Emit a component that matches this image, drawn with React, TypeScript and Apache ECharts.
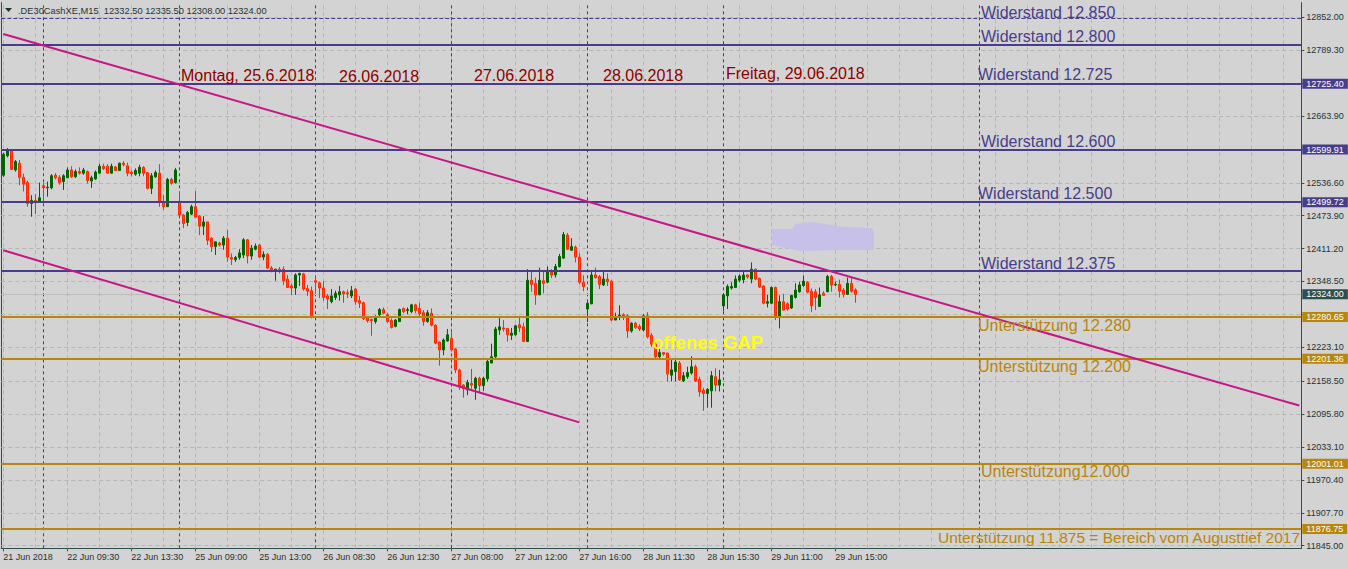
import React, { useEffect, useRef } from "react";
import * as echarts from "echarts";

const symbolName = ".DE30CashXE";
const timeframe = "M15";

// candles per trading day: [open, high, low, close]
const day21 = [
  [12551, 12594, 12548, 12591], [12588, 12603, 12585, 12600], [12599, 12601, 12561, 12562], [12561, 12580, 12558, 12577],
  [12574, 12580, 12532, 12547], [12547, 12554, 12520, 12534], [12537, 12541, 12491, 12497], [12497, 12513, 12472, 12503],
  [12503, 12515, 12477, 12500], [12501, 12537, 12500, 12508],
];
const day22 = [
  [12531, 12537, 12501, 12527], [12527, 12539, 12510, 12528], [12527, 12553, 12524, 12550], [12551, 12555, 12543, 12546],
  [12547, 12551, 12533, 12537], [12539, 12553, 12523, 12550], [12546, 12566, 12546, 12561], [12561, 12568, 12546, 12548],
  [12548, 12562, 12546, 12558], [12558, 12566, 12552, 12555], [12555, 12565, 12552, 12561], [12558, 12560, 12535, 12541],
  [12540, 12550, 12527, 12546], [12544, 12560, 12542, 12557], [12555, 12573, 12554, 12568], [12568, 12573, 12561, 12564],
  [12568, 12572, 12554, 12555], [12555, 12573, 12554, 12568], [12567, 12568, 12559, 12560], [12560, 12575, 12559, 12574],
  [12574, 12578, 12568, 12571], [12569, 12575, 12549, 12555], [12557, 12560, 12549, 12554], [12553, 12564, 12550, 12560],
  [12555, 12571, 12549, 12566], [12566, 12568, 12549, 12555], [12556, 12557, 12524, 12526], [12526, 12555, 12515, 12550],
  [12548, 12560, 12546, 12556], [12555, 12572, 12491, 12501], [12499, 12513, 12485, 12491], [12491, 12546, 12491, 12543],
  [12543, 12546, 12533, 12536], [12537, 12565, 12535, 12561],
];
const day25 = [
  [12499, 12520, 12475, 12475], [12475, 12477, 12450, 12459], [12461, 12483, 12454, 12480], [12477, 12495, 12475, 12491],
  [12491, 12521, 12471, 12471], [12473, 12475, 12437, 12454], [12454, 12473, 12437, 12462], [12462, 12462, 12418, 12427],
  [12431, 12433, 12405, 12415], [12415, 12424, 12399, 12424], [12422, 12424, 12415, 12418], [12418, 12435, 12409, 12431],
  [12431, 12447, 12386, 12395], [12394, 12402, 12380, 12391], [12390, 12397, 12386, 12394], [12394, 12410, 12390, 12403],
  [12399, 12431, 12393, 12428], [12428, 12429, 12383, 12397], [12397, 12418, 12390, 12412], [12410, 12421, 12408, 12416],
  [12418, 12420, 12394, 12395], [12395, 12406, 12389, 12400], [12400, 12403, 12372, 12374], [12374, 12378, 12366, 12369],
  [12369, 12372, 12350, 12372], [12372, 12376, 12364, 12368], [12372, 12377, 12342, 12350], [12353, 12361, 12336, 12337],
  [12340, 12345, 12323, 12336], [12336, 12364, 12323, 12361], [12361, 12365, 12340, 12364], [12363, 12365, 12331, 12334],
  [12335, 12342, 12321, 12330], [12331, 12339, 12278, 12281],
];
const day26 = [
  [12350, 12359, 12327, 12347], [12346, 12348, 12317, 12336], [12336, 12349, 12312, 12318], [12321, 12325, 12296, 12315],
  [12310, 12334, 12307, 12321], [12318, 12331, 12313, 12326], [12323, 12340, 12312, 12329], [12329, 12331, 12308, 12325],
  [12327, 12333, 12317, 12325], [12321, 12340, 12317, 12331], [12334, 12336, 12304, 12310], [12312, 12321, 12298, 12307],
  [12308, 12310, 12275, 12278], [12280, 12282, 12270, 12274], [12276, 12278, 12245, 12274], [12272, 12284, 12268, 12281],
  [12285, 12298, 12281, 12295], [12295, 12299, 12286, 12288], [12285, 12289, 12270, 12272], [12274, 12278, 12259, 12261],
  [12263, 12277, 12261, 12275], [12272, 12297, 12272, 12295], [12297, 12299, 12288, 12291], [12293, 12299, 12286, 12295],
  [12291, 12306, 12288, 12304], [12304, 12306, 12288, 12293], [12297, 12308, 12281, 12287], [12289, 12294, 12264, 12272],
  [12272, 12294, 12270, 12289], [12288, 12297, 12263, 12265], [12265, 12267, 12229, 12231], [12233, 12234, 12188, 12218],
  [12218, 12240, 12208, 12237], [12235, 12258, 12234, 12247],
];
const day27 = [
  [12240, 12254, 12215, 12218], [12220, 12222, 12174, 12180], [12180, 12182, 12142, 12148], [12151, 12153, 12127, 12144],
  [12142, 12161, 12132, 12156], [12154, 12182, 12144, 12151], [12145, 12167, 12123, 12164], [12164, 12167, 12138, 12150],
  [12150, 12167, 12140, 12164], [12163, 12199, 12158, 12196], [12193, 12230, 12193, 12205], [12205, 12262, 12203, 12258],
  [12256, 12279, 12247, 12262], [12260, 12275, 12253, 12258], [12259, 12260, 12234, 12247], [12246, 12260, 12237, 12250],
  [12247, 12266, 12245, 12264], [12266, 12283, 12252, 12260], [12262, 12270, 12234, 12234], [12234, 12372, 12234, 12351],
  [12351, 12370, 12329, 12343], [12345, 12356, 12304, 12323], [12323, 12375, 12323, 12351], [12350, 12368, 12326, 12345],
  [12347, 12377, 12345, 12370], [12368, 12372, 12355, 12361], [12361, 12382, 12356, 12377], [12377, 12401, 12375, 12396],
  [12393, 12443, 12392, 12438], [12437, 12441, 12409, 12410], [12408, 12431, 12407, 12415], [12414, 12417, 12385, 12395],
  [12395, 12402, 12343, 12347], [12347, 12360, 12330, 12339],
];
const day28 = [
  [12296, 12310, 12271, 12307], [12306, 12368, 12305, 12361], [12361, 12375, 12354, 12356], [12358, 12361, 12334, 12343],
  [12342, 12368, 12340, 12353], [12353, 12364, 12340, 12348], [12349, 12351, 12273, 12275], [12275, 12289, 12275, 12281],
  [12282, 12303, 12275, 12284], [12285, 12288, 12275, 12283], [12283, 12286, 12241, 12254], [12254, 12271, 12251, 12269],
  [12269, 12271, 12258, 12261], [12263, 12267, 12254, 12258], [12256, 12286, 12253, 12283], [12283, 12290, 12240, 12243],
  [12246, 12250, 12224, 12229], [12229, 12233, 12202, 12205], [12205, 12224, 12202, 12213], [12213, 12214, 12207, 12210],
  [12212, 12213, 12158, 12172], [12170, 12202, 12158, 12180], [12177, 12201, 12158, 12195], [12193, 12197, 12159, 12161],
  [12159, 12176, 12157, 12169], [12167, 12186, 12163, 12175], [12174, 12206, 12171, 12186], [12186, 12190, 12157, 12159],
  [12162, 12167, 12129, 12138], [12141, 12146, 12102, 12135], [12135, 12145, 12108, 12143], [12140, 12178, 12108, 12169],
  [12167, 12183, 12139, 12151], [12151, 12180, 12139, 12161],
];
const day29 = [
  [12302, 12326, 12292, 12323], [12321, 12343, 12296, 12339], [12336, 12347, 12333, 12339], [12337, 12360, 12336, 12353],
  [12351, 12362, 12347, 12359], [12352, 12370, 12345, 12361], [12361, 12362, 12354, 12357], [12353, 12385, 12345, 12372],
  [12372, 12373, 12351, 12353], [12354, 12356, 12336, 12338], [12340, 12341, 12305, 12307], [12307, 12323, 12299, 12310],
  [12307, 12339, 12305, 12337], [12337, 12339, 12275, 12281], [12281, 12322, 12259, 12310], [12310, 12325, 12293, 12294],
  [12306, 12309, 12293, 12296], [12298, 12323, 12296, 12322], [12318, 12345, 12316, 12332], [12329, 12348, 12327, 12342],
  [12341, 12360, 12338, 12349], [12347, 12349, 12326, 12328], [12330, 12335, 12290, 12302], [12329, 12334, 12294, 12318],
  [12301, 12337, 12300, 12323], [12326, 12330, 12321, 12322], [12329, 12361, 12328, 12358], [12358, 12361, 12329, 12342],
  [12342, 12348, 12340, 12343], [12343, 12352, 12318, 12330], [12332, 12336, 12318, 12324], [12324, 12356, 12323, 12345],
  [12345, 12355, 12327, 12330], [12332.5, 12335.5, 12308, 12324],
];
const days = [day21, day22, day25, day26, day27, day28, day29];

const timeLabels = [
  "21 Jun 2018", "22 Jun 09:30", "22 Jun 13:30", "25 Jun 09:00", "25 Jun 13:00", "26 Jun 08:30", "26 Jun 12:30",
  "27 Jun 08:00", "27 Jun 12:00", "27 Jun 16:00", "28 Jun 11:30", "28 Jun 15:30", "29 Jun 11:00", "29 Jun 15:00",
];
const labelStep = 16;
const gridStep = 8;
const totalSlots = 325;
const extraSeparator = 244;

const priceTicks = [
  12852.0, 12789.3, 12726.6, 12663.9, 12601.2, 12536.6, 12473.9, 12411.2, 12348.5,
  12285.8, 12223.1, 12158.5, 12095.8, 12033.1, 11970.4, 11907.7, 11845.0,
];
const coveredTicks = [12726.6, 12601.2, 12285.8];

const resistanceLevels = [12850, 12800, 12725.4, 12599.91, 12499.72, 12369];
const resistanceTagged = [false, false, true, true, true, false];
const supportLevels = [12280.65, 12201.36, 12001.01, 11876.75];
const bidPrice = 12324;

const upperTrend = [[0, 12820], [324, 12112]];
const lowerTrend = [[0, 12408], [144, 12080]];

const resistanceTexts = ["Widerstand 12.850", "Widerstand 12.800", "Widerstand 12.725", "Widerstand 12.600", "Widerstand 12.500", "Widerstand 12.375"];
const supportTexts = ["Unterstützung 12.280", "Unterstützung 12.200", "Unterstützung12.000", "Unterstützung 11.875 = Bereich vom Augusttief 2017"];
const dayTexts = ["Montag, 25.6.2018", "26.06.2018", "27.06.2018", "28.06.2018", "Freitag, 29.06.2018"];
const gapText = "offenes GAP";

const PURPLE = "#483d8b";
const GOLD = "#b8860b";
const FRAME = "#2f4f4f";
const AXIS_TEXT = "#1e3434";
const GRID = "#b6b6b6";
const FONT = "Liberation Sans";

export default function App() {
  const ref = useRef<HTMLDivElement>(null);

  useEffect(() => {
    if (!ref.current) return;
    const chart = echarts.init(ref.current, null, { renderer: "svg" });

    const candles = days.flat();
    const ohlc = candles.map(([o, h, l, c]) => [o, c, l, h]);
    const categories = Array.from({ length: totalSlots }, (_, i) => String(i));

    const separators: number[] = [];
    let acc = 0;
    days.forEach((d, k) => {
      if (k > 0) separators.push(acc);
      acc += d.length;
    });
    separators.push(extraSeparator);

    const labelFilter = (index: number) => index % labelStep === 0 && index / labelStep < timeLabels.length;
    const labelTicks = priceTicks.filter((v) => !coveredTicks.includes(v));

    const gridLines: any[] = [];
    priceTicks.forEach((v) =>
      gridLines.push({ yAxis: v, lineStyle: { color: GRID, type: [4, 3], width: 1 }, label: { show: false } })
    );
    for (let k = 0; k < totalSlots; k += gridStep) {
      gridLines.push({ xAxis: String(k), lineStyle: { color: GRID, type: [4, 3], width: 1 }, label: { show: false } });
    }
    separators.forEach((s) =>
      gridLines.push({ xAxis: String(s), lineStyle: { color: FRAME, type: [3, 3], width: 1 }, label: { show: false } })
    );
    gridLines.push({
      yAxis: bidPrice,
      lineStyle: { color: "#bcbcbc", type: "solid", width: 1 },
      label: {
        show: true, position: "end", distance: 1, formatter: (p: any) => Number(p.value).toFixed(2),
        backgroundColor: FRAME, color: "#ffffff", fontSize: 9, fontFamily: FONT, lineHeight: 9, padding: [1, 4, 0, 4],
      },
    });

    const tagLabel = (bg: string) => ({
      show: true, position: "end", distance: 1, formatter: (p: any) => Number(p.value).toFixed(2),
      backgroundColor: bg, color: "#ffffff", fontSize: 9, fontFamily: FONT, lineHeight: 9, padding: [1, 4, 0, 4],
    });
    const srLines: any[] = [];
    resistanceLevels.forEach((v, i) => {
      srLines.push({
        yAxis: v,
        lineStyle: { color: PURPLE, width: i === 0 ? 1 : 2, type: i === 0 ? [4, 2] : "solid" },
        label: resistanceTagged[i] ? tagLabel(PURPLE) : { show: false },
      });
    });
    supportLevels.forEach((v) => {
      srLines.push({ yAxis: v, lineStyle: { color: GOLD, width: 2, type: "solid" }, label: tagLabel(GOLD) });
    });

    const txt = (text: string, x: number, y: number, fill: string, extra: any = {}) => ({
      type: "text", x, y, z: 100, silent: true,
      style: {
        text, fill, fontSize: 16, fontFamily: FONT, align: "left", verticalAlign: "middle",
        textAlign: "left", textVerticalAlign: "middle", ...extra,
      },
    });

    const resPos = [[981, 12], [981, 36], [978, 74], [981, 141], [978, 193], [981, 263]];
    const supPos = [[978, 325], [978, 366], [981, 471], [938, 537]];
    const dayPos = [[181, 75], [339, 76], [474, 75], [603, 75], [726, 73]];
    const last = candles[candles.length - 1];
    const header = `${symbolName},${timeframe}  ${last.map((v) => v.toFixed(2)).join(" ")}`;

    const elements: any[] = [
      {
        type: "polygon", z: 99, silent: true,
        shape: { points: [[772, 229], [792, 229], [795, 224], [812, 222], [826, 224], [842, 227], [872, 228], [874, 232], [874, 250], [840, 250], [800, 251], [785, 248], [772, 245]] },
        style: { fill: "#c7c0e9" },
      },
      { type: "polygon", z: 100, silent: true, shape: { points: [[5, 8], [12, 8], [8.5, 12]] }, style: { fill: AXIS_TEXT } },
      txt(header, 18, 10.5, AXIS_TEXT, { fontSize: 9.3 }),
      ...resistanceTexts.map((t, i) => txt(t, resPos[i][0], resPos[i][1], PURPLE)),
      ...supportTexts.map((t, i) =>
        txt(t, supPos[i][0], supPos[i][1], GOLD, i === supportTexts.length - 1 ? { fontSize: 15.5 } : {})
      ),
      ...dayTexts.map((t, i) => txt(t, dayPos[i][0], dayPos[i][1], "#8b0000")),
      txt(gapText, 652, 342, "#ffff00", { fontWeight: "bold", fontSize: 18.5 }),
    ];

    chart.setOption({
      animation: false,
      backgroundColor: "#d3d3d3",
      grid: { left: 1.3, right: 46.7, top: 2.6, bottom: 20.7, containLabel: false, outerBoundsMode: "none" },
      xAxis: {
        type: "category",
        data: categories,
        boundaryGap: true,
        axisLine: { show: true, lineStyle: { color: FRAME, width: 1 } },
        axisTick: { show: true, interval: labelFilter, alignWithLabel: true, length: 3, lineStyle: { color: FRAME } },
        axisLabel: {
          interval: labelFilter,
          formatter: (_v: string, i: number) => timeLabels[i / labelStep] ?? "",
          align: "left", fontSize: 9, fontFamily: FONT, color: AXIS_TEXT, margin: 4,
        },
        splitLine: { show: false },
      },
      yAxis: [
        {
          type: "value", position: "right", min: 11840, max: 12880, scale: true,
          splitLine: { show: false },
          axisLine: { show: true, lineStyle: { color: FRAME, width: 1 } },
          axisTick: { show: true, customValues: priceTicks, length: 3, lineStyle: { color: FRAME } },
          axisLabel: {
            customValues: labelTicks, formatter: (v: number) => v.toFixed(2),
            fontSize: 9, fontFamily: FONT, color: AXIS_TEXT, margin: 5, align: "left",
          },
        },
        {
          type: "value", position: "left", min: 11840, max: 12880, scale: true,
          splitLine: { show: false },
          axisLine: { show: true, lineStyle: { color: FRAME, width: 1 } },
          axisTick: { show: false }, axisLabel: { show: false },
        },
      ],
      series: [
        {
          type: "candlestick",
          data: ohlc,
          barWidth: 3,
          z: 2,
          silent: true,
          itemStyle: { color: "#006400", color0: "#ff4a0a", borderColor: "#006400", borderColor0: "#ff2a00", borderWidth: 1 },
          markLine: { silent: true, z: 1, symbol: ["none", "none"], precision: 2, data: gridLines },
        },
        {
          type: "line",
          data: upperTrend,
          symbol: "none",
          z: 6,
          silent: true,
          lineStyle: { color: "#c71585", width: 2 },
          markLine: { silent: true, z: 5, symbol: ["none", "none"], precision: 2, data: srLines },
        },
        {
          type: "line",
          data: lowerTrend,
          symbol: "none",
          z: 6,
          silent: true,
          lineStyle: { color: "#c71585", width: 2 },
        },
      ],
      graphic: { elements },
    });

    return () => chart.dispose();
  }, []);

  return (
    <div
      ref={ref}
      style={{ position: "fixed", left: 0, top: 0, width: 1348, height: 569, background: "#d3d3d3" }}
    />
  );
}
